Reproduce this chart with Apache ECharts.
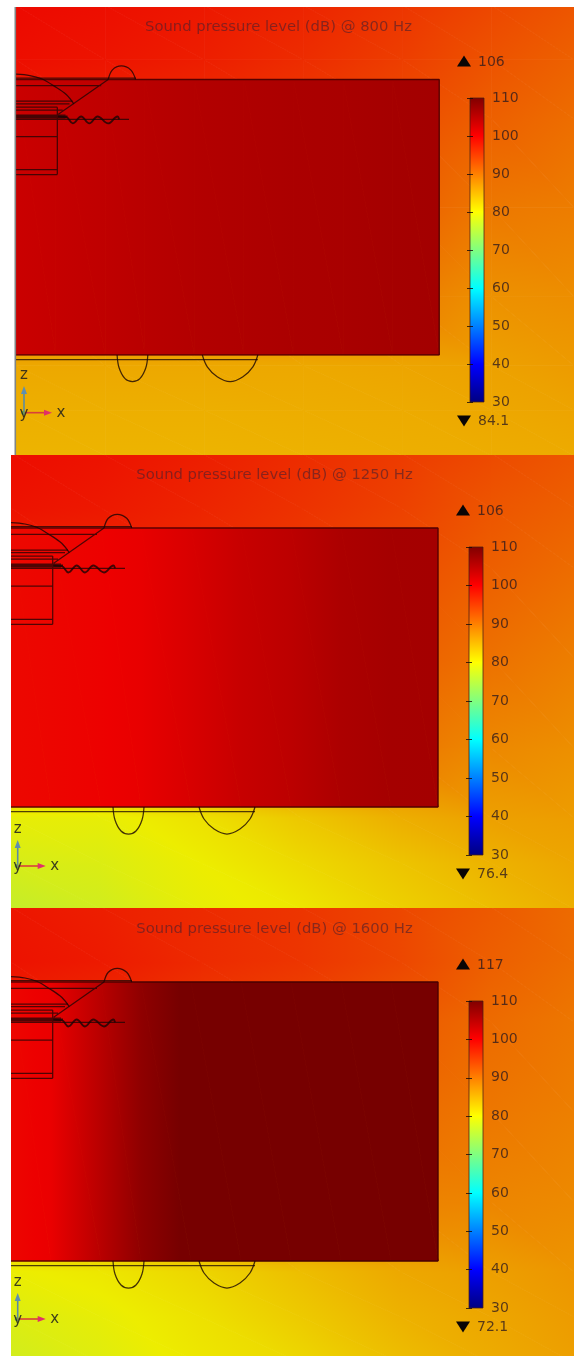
<!DOCTYPE html>
<html><head><meta charset="utf-8">
<style>html,body{margin:0;padding:0;background:#fff}#c{width:574px;height:1356px}</style>
<script src="https://cdn.jsdelivr.net/npm/echarts@6/dist/echarts.min.js"></script>
</head><body><div id="c"></div>
<script>
// ---------- data ----------
const frequencies = ['800 Hz','1250 Hz','1600 Hz'];
const maxLabels = ['106','106','117'];
const minLabels = ['84.1','76.4','72.1'];
const colormap = [[30,'#000080'],[40,'#0000ff'],[60,'#00ffff'],[70,'#80ff80'],[80,'#ffff00'],[100,'#ff0000'],[110,'#800000']];

// air field (dB) sampled on a coarse lattice
const fieldX = [0,90,190,290,390,480,563];
const fieldY = [-75,-20,40,130,220,290,335,381];
const field800 = [
 [99.2,98.8,98,97,95.5,94,92.8],
 [98.8,98.3,97.5,96.3,94.8,93,91.8],
 [98,97,96,95,93.5,91.9,90.8],
 [95,94.5,94,93,92,89.9,89.5],
 [91,90.8,90.5,90,89.5,87.8,88],
 [85.8,85.8,85.8,85.8,86.1,86.4,86.9],
 [85.2,85.2,85.2,85.4,85.6,85.9,86.2],
 [84.8,84.8,84.8,85,85.2,85.4,85.6]];
const field1250 = [
 [99,98.5,97.5,96.3,95,93.8,92.8],
 [98.5,98,97,95.8,94.5,92.8,91.9],
 [97,96.5,96,95,93.5,92,90.9],
 [94,94,93.5,93,92,90.5,89.4],
 [90,90,90,90,90,88.5,87.9],
 [79.5,79.5,81,83.2,85.3,86.5,86.8],
 [78,78.5,80,81.7,83.5,85,86],
 [76.5,77.5,79.5,80.5,82.5,84,85.2]];
const field1600 = [
 [98.2,97.5,96.5,95.5,94,92.5,91],
 [98.5,97.8,96.5,95.5,94,92,90.8],
 [97,96,95,94,92.5,91,90],
 [95,94,93,92,91,90,89.3],
 [90,90,90,89.5,89,88.8,88.4],
 [79.8,80.5,82,84,85.8,86.6,87.4],
 [78.5,79.5,81,83,85,86,86.9],
 [77.5,78.8,80.5,81.8,84,85.5,86.5]];

// domain (box) field (dB)
const boxX = [0,40,90,130,180,230,280,330,380,427];
const boxY = [0,279];
const box800  = [103,103.4,103.9,104.4,104.9,105.3,105.6,105.8,106.1,106.3];
const box1250 = [99.3,99.6,99.9,100.4,101.8,103.2,104.2,105.5,106.1,106.2];
const box1600 = [99.5,100.3,104.5,108,110.6,112,113,114,115,117];

// geometry outline
const straightLines = [
 [[0,-1.3],[121,-1.3]], [[0,6.3],[86,6.3]], [[0,22],[57,22]], [[0,24.7],[54,24.7]],
 [[0,28],[41.7,28]], [[0,31],[47,31]], [[0,36],[50,36]], [[0,37],[52,37]], [[0,38],[52,38]],
 [[0,38.8],[50,38.8]], [[0,40.3],[114,40.3]], [[0,58],[41.7,58]], [[0,91.3],[41.7,91.3]],
 [[0,96.3],[41.7,96.3]], [[41.7,28],[41.7,96.3]], [[93,0],[42.7,35.3]],
 [[0,283.7],[244,283.7]]
];
const curvedLines = [
 [[0,-5.3],[14,-4],[25.7,-0.7],[39,7],[50.7,15.3],[58.3,24.7]],
 [[93,0],[97.3,-9.7],[106.3,-13.7],[115.7,-9.7],[120.7,0]],
 [[102,279],[104,292],[110,303],[117.5,306],[125,303],[131,292],[133,279]],
 [[188,279],[193,291],[203,301],[216,306],[229,301],[239,291],[244,279]]
];
const waveLine = [[42.3,37.7],[50.7,38.2],[57.3,44.5],[65.7,37.5],[74,44.5],[82.3,37.5],[93,44.5],[102.3,37.5],[104,40.3]];

// ---------- layout ----------
const panels = [
 {left:16,top:7,width:558,height:448,yMin:-73.4,yMax:380.3,titleX:278.5,titleY:28,field:field800,box:box800,barTop:98,barH:304,barX:470,markX:457,triad:[24,412.7],zTop:386,zText:375.5,upY:62,downY:421},
 {left:11,top:455,width:563,height:453,yMin:-73,yMax:380,titleX:274.5,titleY:476,field:field1250,box:box1250,barTop:547,barH:308,barX:469,markX:456,triad:[17.7,866],zTop:840,zText:829,upY:511,downY:874},
 {left:11,top:908,width:563,height:448,yMin:-74,yMax:374,titleX:274.5,titleY:930,field:field1600,box:box1600,barTop:1001,barH:307,barX:469,markX:456,triad:[17.7,1319],zTop:1293,zText:1282,upY:965,downY:1327}
];
const barW = 14;
const textColor = 'rgba(45,25,30,0.78)';
const lit = 0.93;

// ---------- colour helpers ----------
function rgb(hex){return [1,3,5].map(i=>parseInt(hex.substr(i,2),16));}
function colourAt(v,k){
  const m=colormap; v=Math.max(m[0][0],Math.min(m[m.length-1][0],v));
  for(let i=1;i<m.length;i++){ if(v<=m[i][0]){
    const t=(v-m[i-1][0])/(m[i][0]-m[i-1][0]),a=rgb(m[i-1][1]),b=rgb(m[i][1]);
    return 'rgb('+a.map((c,j)=>Math.round((c+(b[j]-c)*t)*k)).join(',')+')';
  }}
}
function triangles(xs,ys,rows){
  const out=[];
  for(let j=0;j<ys.length-1;j++)for(let i=0;i<xs.length-1;i++){
    const A=[xs[i],ys[j],rows[j][i]],B=[xs[i+1],ys[j],rows[j][i+1]],
          C=[xs[i],ys[j+1],rows[j+1][i]],D=[xs[i+1],ys[j+1],rows[j+1][i+1]];
    out.push([...A,...B,...D]); out.push([...A,...D,...C]);
  }
  return out;
}
// each triangle carries a linear field, so one oblique gradient renders it exactly
function shade(params,api){
  const P=[0,3,6].map(o=>{const p=api.coord([api.value(o),api.value(o+1)]);return [p[0],p[1],api.value(o+2)];});
  const [a,b,c]=P;
  const det=(b[0]-a[0])*(c[1]-a[1])-(c[0]-a[0])*(b[1]-a[1]);
  const gx=((b[2]-a[2])*(c[1]-a[1])-(c[2]-a[2])*(b[1]-a[1]))/det;
  const gy=((c[2]-a[2])*(b[0]-a[0])-(b[2]-a[2])*(c[0]-a[0]))/det;
  const vals=P.map(p=>p[2]),lo=Math.min(...vals),hi=Math.max(...vals),g2=gx*gx+gy*gy;
  let fill;
  if(hi-lo<1e-6||g2<1e-12){fill=colourAt(lo,lit);}
  else{
    const s=P[vals.indexOf(lo)],L=(hi-lo)/g2;
    const levels=[lo,...colormap.map(k=>k[0]).filter(v=>v>lo&&v<hi),hi];
    fill=new echarts.graphic.LinearGradient(s[0],s[1],s[0]+gx*L,s[1]+gy*L,
      levels.map(v=>({offset:(v-lo)/(hi-lo),color:colourAt(v,lit)})),true);
  }
  return {type:'polygon',shape:{points:P.map(p=>[p[0],p[1]])},style:{fill:fill,stroke:fill,lineWidth:0.8},silent:true};
}
function joined(lines){
  const out=[]; lines.forEach(l=>{l.forEach(p=>out.push(p)); out.push([null,null]);}); return out;
}

// ---------- option ----------
const grid=[],xAxis=[],yAxis=[],series=[],title=[],elements=[];
panels.forEach((p,n)=>{
  const gi=grid.length, yi=yAxis.length;
  grid.push({left:p.left,top:p.top,width:p.width,height:p.height});
  xAxis.push({type:'value',gridIndex:gi,min:0,max:563,show:false});
  yAxis.push({type:'value',gridIndex:gi,min:p.yMin,max:p.yMax,inverse:true,show:false});
  const common={coordinateSystem:'cartesian2d',xAxisIndex:gi,yAxisIndex:yi,silent:true,animation:false};
  series.push({...common,type:'custom',name:'air '+frequencies[n],clip:true,z:1,renderItem:shade,
    data:triangles(fieldX,fieldY,p.field),encode:{x:[0,3,6],y:[1,4,7]}});
  series.push({...common,type:'custom',name:'domain '+frequencies[n],clip:true,z:2,renderItem:shade,
    data:triangles(boxX,boxY,[p.box,p.box]),encode:{x:[0,3,6],y:[1,4,7]}});
  series.push({...common,type:'line',z:3,symbol:'none',clip:true,connectNulls:false,
    lineStyle:{color:'rgba(60,0,0,0.8)',width:1.3},
    data:[[boxX[0],boxY[0]],[boxX[9],boxY[0]],[boxX[9],boxY[1]],[boxX[0],boxY[1]]]});
  series.push({...common,type:'line',z:4,symbol:'none',clip:true,connectNulls:false,
    lineStyle:{color:'rgba(25,5,5,0.75)',width:1.25},data:joined(straightLines)});
  series.push({...common,type:'line',z:4,symbol:'none',clip:true,connectNulls:false,smooth:0.35,
    lineStyle:{color:'rgba(25,5,5,0.8)',width:1.25},data:joined(curvedLines)});
  series.push({...common,type:'line',z:4,symbol:'none',clip:true,smooth:0.4,
    lineStyle:{color:'rgba(25,5,5,0.8)',width:1.8},data:waveLine});

  // colour bar
  const bi=grid.length, byi=yAxis.length;
  grid.push({left:p.barX,top:p.barTop,width:barW,height:p.barH});
  xAxis.push({type:'value',gridIndex:bi,min:0,max:1,show:false});
  const barAxis={type:'value',gridIndex:bi,min:30,max:110,interval:10,z:10,
    axisLine:{show:false},splitLine:{show:false},
    axisTick:{show:true,inside:true,length:3,lineStyle:{color:'rgba(20,10,10,0.8)',width:1}}};
  yAxis.push({...barAxis,position:'right',
    axisLabel:{show:true,margin:8,fontFamily:'DejaVu Sans',fontSize:14,color:textColor,padding:[2,0,0,0]}});
  yAxis.push({...barAxis,position:'left',axisLabel:{show:false}});
  series.push({type:'custom',coordinateSystem:'cartesian2d',xAxisIndex:bi,yAxisIndex:byi,silent:true,animation:false,z:5,clip:false,
    data:[[0,30,1,110]],encode:{x:[0,2],y:[1,3]},
    renderItem:(params,api)=>{
      const a=api.coord([api.value(0),api.value(1)]),b=api.coord([api.value(2),api.value(3)]);
      const lo=colormap[0][0],hi=colormap[colormap.length-1][0];
      return {type:'rect',shape:{x:a[0],y:b[1],width:b[0]-a[0],height:a[1]-b[1]},
        style:{stroke:'rgba(70,30,20,0.75)',lineWidth:1,
          fill:new echarts.graphic.LinearGradient(0,1,0,0,colormap.map(k=>({offset:(k[0]-lo)/(hi-lo),color:k[1]})))}};
    }});

  title.push({text:'Sound pressure level (dB) @ '+frequencies[n],left:p.titleX,top:p.titleY-8,textAlign:'center',padding:0,
    textStyle:{fontFamily:'DejaVu Sans',fontSize:14.8,fontWeight:'normal',color:'rgba(75,30,45,0.62)'}});

  // max / min markers
  const mx=p.markX;
  elements.push({type:'polygon',z:20,shape:{points:[[mx+7,p.upY-6.5],[mx+14,p.upY+4.5],[mx,p.upY+4.5]]},style:{fill:'#0a0505'}});
  elements.push({type:'polygon',z:20,shape:{points:[[mx,p.downY-5.5],[mx+14,p.downY-5.5],[mx+7,p.downY+5.5]]},style:{fill:'#0a0505'}});
  elements.push({type:'text',z:20,x:mx+21,y:p.upY+0.5,style:{text:maxLabels[n],font:'14px "DejaVu Sans"',fill:textColor,verticalAlign:'middle',align:'left'}});
  elements.push({type:'text',z:20,x:mx+21,y:p.downY+0.5,style:{text:minLabels[n],font:'14px "DejaVu Sans"',fill:textColor,verticalAlign:'middle',align:'left'}});

  // coordinate triad
  const [tx,ty]=p.triad;
  elements.push({type:'line',z:20,shape:{x1:tx,y1:ty+2,x2:tx,y2:p.zTop+6},style:{stroke:'#5c8ca0',lineWidth:1.6}});
  elements.push({type:'polygon',z:20,shape:{points:[[tx,p.zTop],[tx+3,p.zTop+8],[tx-3,p.zTop+8]]},style:{fill:'#5f8fb0'}});
  elements.push({type:'line',z:20,shape:{x1:tx,y1:ty,x2:tx+21,y2:ty},style:{stroke:'#d8403a',lineWidth:1.6}});
  elements.push({type:'polygon',z:20,shape:{points:[[tx+28,ty],[tx+20,ty-3],[tx+20,ty+3]]},style:{fill:'#e0306a'}});
  elements.push({type:'circle',z:20,shape:{cx:tx-1,cy:ty,r:2},style:{fill:'#70a050'}});
  [['z',tx,p.zText],['y',tx,ty+1],['x',tx+37,ty]].forEach(t=>
    elements.push({type:'text',z:21,x:t[1],y:t[2],style:{text:t[0],font:'15px "DejaVu Sans"',fill:'rgba(30,30,30,0.85)',align:'center',verticalAlign:'middle'}}));
});
elements.push({type:'rect',z:20,shape:{x:14.5,y:7,width:1.6,height:448},style:{fill:'#808686'}});

const chart=echarts.init(document.getElementById('c'),null,{renderer:'canvas',width:574,height:1356});
chart.setOption({animation:false,backgroundColor:'#fff',grid,xAxis,yAxis,title,series,graphic:{elements}});
</script></body></html>
